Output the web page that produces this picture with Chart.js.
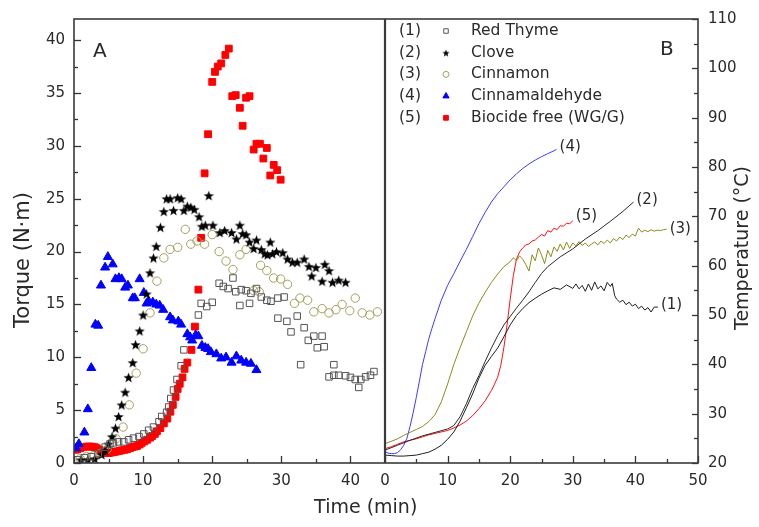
<!DOCTYPE html>
<html><head><meta charset="utf-8">
<script src="https://cdn.jsdelivr.net/npm/chart.js@4.4.1/dist/chart.umd.min.js"></script>
<style>html,body{margin:0;padding:0;background:#fff;}#wrap{position:relative;width:759px;height:527px;}</style>
</head><body><div id="wrap"><canvas id="c" width="759" height="527"></canvas></div>
<script>
// ---------- Panel A: torque (N·m) vs time (min) ----------
const seriesNames = ['Red Thyme', 'Clove', 'Cinnamon', 'Cinnamaldehyde', 'Biocide free (WG/G)'];
const seriesTags = ['(1)', '(2)', '(3)', '(4)', '(5)'];

const thymeTorqueT = [0.5,1.5,2.5,3.5,4.5,5.2,5.7,6.45,7.2,7.9,8.6,9.4,10.1,10.8,11.5,12.3,12.7,13.4,13.7,14.0,14.4,14.9,15.5,15.9,18.0,18.4,19.2,20.0,21.0,21.6,22.3,23.0,23.4,24.0,24.2,24.9,25.4,25.6,26.4,27.1,27.9,28.5,29.5,29.5,30.4,30.8,31.4,32.3,32.8,33.3,33.9,34.7,35.2,35.9,36.2,36.9,37.6,37.6,38.3,39.3,40.0,40.7,41.2,41.5,42.2,42.9,43.4];
const thymeTorque  = [0.3,0.5,0.6,0.9,1.5,1.8,1.9,2.0,2.0,2.2,2.35,2.5,2.75,3.1,3.4,3.9,4.4,4.8,5.3,6.1,6.9,7.9,9.2,10.7,14.0,15.1,14.8,15.2,17.0,16.7,16.5,17.5,16.2,14.9,16.4,16.3,15.1,16.05,16.5,15.7,15.4,15.3,15.6,13.7,15.7,13.4,12.4,13.9,9.3,12.8,11.6,12.0,10.9,12.0,11.0,8.15,9.3,8.3,8.3,8.25,8.1,7.9,7.15,7.9,8.15,8.3,8.65];

const cloveTorqueT = [1.0,2.0,3.0,4.0,4.5,5.0,5.5,6.0,6.45,6.9,7.4,7.9,8.5,8.9,9.5,10.0,10.5,11.0,11.5,11.9,12.5,13.0,13.4,13.9,14.4,15.0,15.5,15.9,16.4,16.9,17.4,18.1,18.5,19.0,19.5,20.1,21.1,21.8,22.8,23.5,24.0,24.4,24.9,25.4,26.0,26.4,27.1,27.6,28.0,28.4,28.7,29.3,30.2,30.9,31.6,32.3,33.3,34.0,34.4,35.0,35.9,36.3,36.9,37.4,38.3,39.3];
const cloveTorque  = [0.3,0.3,0.4,0.8,1.2,1.8,2.5,3.3,4.4,5.5,6.7,8.1,9.5,11.2,12.5,14.0,16.0,18.0,19.4,20.5,22.3,23.8,25.0,25.0,23.9,25.1,25.0,23.9,24.3,24.2,24.0,23.3,22.4,22.5,25.3,22.5,21.8,22.0,21.8,21.2,22.5,21.7,21.6,20.9,20.3,21.1,20.2,19.8,19.7,20.9,19.8,20.0,19.9,19.3,19.0,19.0,19.3,18.6,17.7,18.5,17.2,18.8,18.2,17.1,17.3,17.1];

const cinnTorqueT = [0.9,1.8,2.85,3.8,4.8,6.1,7.1,8.0,9.0,10.0,11.0,12.0,13.0,13.9,15.0,16.1,16.9,17.8,18.9,20.0,21.0,22.0,23.0,24.0,24.9,26.0,26.8,27.0,27.9,28.9,29.9,30.9,31.9,32.7,33.8,34.7,35.9,36.9,37.9,38.8,39.9,40.7,41.7,42.8,43.9];
const cinnTorque  = [0.4,0.6,0.7,0.9,1.3,2.3,3.4,5.5,8.5,10.8,14.2,17.2,19.4,20.2,20.4,22.1,20.7,21.0,20.7,21.6,20.0,19.1,18.3,19.7,20.2,16.3,16.2,18.7,18.2,17.5,17.4,16.9,15.1,15.6,15.4,14.3,14.6,14.2,14.5,15.0,14.4,15.6,14.2,14.0,14.3];

const aldTorqueT = [0.3,0.7,1.5,2.0,2.5,3.1,3.5,3.9,4.5,4.9,5.6,6.0,6.5,6.9,7.4,7.8,8.5,8.8,9.5,10.1,10.5,10.8,11.4,11.9,12.4,12.9,13.9,14.3,15.1,15.5,16.4,16.8,17.1,17.6,18.0,18.5,19.0,19.4,19.8,20.6,21.3,22.0,22.8,23.5,24.2,24.9,25.6,26.4];
const aldTorque  = [1.4,1.8,2.9,5.1,9.0,13.1,13.0,16.8,18.5,19.5,18.8,17.4,17.5,17.4,16.6,16.8,15.6,15.6,17.4,16.1,15.1,15.3,15.2,15.0,14.9,14.5,13.8,13.5,13.4,13.1,12.2,11.9,11.6,12.1,12.0,11.1,10.9,10.8,10.5,10.3,9.9,10.0,9.5,10.1,9.7,9.5,9.4,8.8];

const freeTorqueT = [0.2,0.5,0.9,1.3,1.85,2.2,2.6,3.0,3.3,3.7,4.0,4.4,4.75,5.1,5.5,5.9,6.2,6.6,6.9,7.3,7.7,8.1,8.4,8.8,9.1,9.5,9.8,10.2,10.6,11.0,11.3,11.7,12.0,12.5,13.0,13.5,13.95,14.3,14.7,15.0,15.3,15.7,16.0,16.4,17.0,17.5,18.0,18.4,18.9,19.4,20.0,20.4,20.8,21.3,21.9,22.4,22.9,23.4,24.0,24.4,24.9,25.4,26.0,26.4,26.9,27.4,27.9,28.4,28.9,29.4,29.9];
const freeTorque  = [1.25,1.3,1.4,1.5,1.55,1.55,1.55,1.5,1.4,1.25,1.1,1.0,0.95,0.95,1.0,1.05,1.1,1.15,1.2,1.25,1.3,1.4,1.5,1.55,1.6,1.75,1.9,2.05,2.2,2.4,2.55,2.75,3.0,3.3,3.75,4.2,4.85,5.5,6.25,7.0,7.5,8.1,8.9,9.5,10.7,12.9,16.4,21.3,27.4,31.1,36.05,37.0,37.5,37.8,38.6,39.2,34.7,34.8,33.6,31.9,34.55,34.7,29.65,30.2,30.2,28.8,29.8,27.2,28.2,27.7,26.8];

// ---------- Panel B: temperature (°C) vs time (min) ----------
const thymeTempT = [0,1,2,3,4,5,6,7,8,9,10,11,12,13,14,15,16,17,18,19,20,21,22,23,24,25,26,27,28,29,30,30.5,31,31.5,32,32.5,33,33.5,34,34.5,35,35.5,36,36.3,36.7,37,37.5,38,38.5,39,39.5,40,40.5,41,41.5,42,42.5,43,43.6];
const thymeTemp  = [21.6,21.5,21.4,21.4,21.5,21.6,21.9,22.2,22.8,23.6,24.8,26.3,28.5,31.2,34.0,37.2,39.8,41.6,43.3,45.6,48.0,49.9,51.3,52.5,53.4,54.2,54.9,55.5,55.2,56.1,55.4,56.3,55.3,56.0,54.8,56.3,55.0,56.7,55.3,55.9,54.9,56.6,55.8,56.4,53.9,53.2,52.6,53.0,52.1,52.6,51.8,52.2,51.3,51.8,51.0,51.5,50.6,51.6,51.6];

const cloveTempT = [0,2,4,6,8,10,11,12,13,14,15,16,17,18,19,20,21,22,23,24,25,26,28,30,32,34,36,38,39.7];
const cloveTemp  = [22.6,23.6,24.6,25.5,26.2,26.9,27.6,29.4,32.0,35.1,37.7,40.6,43.3,45.8,48.0,49.7,51.4,53.0,54.7,56.6,58.4,59.8,61.8,63.4,65.4,67.1,69.0,71.0,72.9];

const cinnTempT = [0,1,2,3,4,5,6,7,8,9,10,11,12,13,14,15,16,17,18,19,20,20.5,21,21.5,22,22.5,23,23.5,24,24.5,25,25.5,26,26.5,27,27.5,28,28.5,29,29.5,30,30.5,31,31.5,32,32.5,33,33.5,34,34.5,35,35.5,36,36.5,37,37.5,38,38.5,39,39.5,40,40.5,41,41.5,42,42.5,43,43.5,44,44.5,45];
const cinnTemp  = [23.9,24.4,24.9,25.6,26.2,26.8,27.4,28.4,29.8,32.4,36.0,40.0,43.4,46.6,49.8,52.4,54.6,56.6,58.3,59.8,60.8,61.6,61.0,62.0,61.3,60.2,58.9,62.2,61.0,63.6,62.2,60.4,63.1,61.8,63.8,62.9,64.4,63.2,64.8,63.5,64.6,64.0,64.9,64.1,64.6,63.9,64.4,64.8,64.2,65.0,64.5,65.2,64.6,65.5,65.0,65.8,65.3,66.2,65.7,66.4,66.0,67.6,66.8,67.2,66.9,67.3,67.0,67.2,67.1,67.3,67.4];

const aldTempT = [0,0.5,1,1.5,2,2.5,3,3.5,4,4.5,5,5.5,6,6.5,7,7.5,8,9,10,11,12,13,14,15,16,17,18,19,20,21,22,23,24,25,26,27,27.4];
const aldTemp  = [22.3,22.0,21.9,21.9,22.1,22.7,23.6,25.0,27.4,30.2,33.3,36.6,40.0,42.6,45.2,47.3,49.3,53.0,56.0,58.4,60.9,63.3,65.9,68.5,70.8,72.9,74.6,76.0,77.4,78.6,79.7,80.6,81.4,82.1,82.7,83.3,83.6];

const freeTempT = [0,1,2,3,4,5,6,7,8,9,10,11,12,13,14,15,16,17,17.5,18,18.5,19,19.5,20,20.5,21,21.5,22,22.5,23,23.5,24,24.5,25,25.5,26,26.5,27,27.5,28,28.5,29,29.5,30];
const freeTemp  = [22.9,23.3,23.8,24.3,24.6,24.9,25.3,25.7,26.0,26.3,26.6,27.1,27.7,28.5,29.6,31.0,32.6,34.7,36.0,37.4,39.8,43.5,48.0,53.2,58.0,61.3,62.8,63.6,64.2,64.4,65.0,65.2,65.8,66.3,66.0,67.1,66.8,67.6,67.3,68.1,68.0,68.6,68.5,69.1];

// ---------- tick labels ----------
const torqueTicks = [0,5,10,15,20,25,30,35,40];
const timeTicksA = [0,10,20,30,40];
const timeTicksB = [0,10,20,30,40,50];
const tempTicks = [20,30,40,50,60,70,80,90,100,110];

const FONT = "'DejaVu Sans', 'Liberation Sans', sans-serif";
const INK = '#2a2a2a';

function zip(xs, ys) { const n = Math.min(xs.length, ys.length); const o = []; for (let i = 0; i < n; i++) o.push({x: xs[i], y: ys[i]}); return o; }

function makeStar(R) {
  const s = Math.ceil(R * 2 + 2), c = document.createElement('canvas');
  c.width = s; c.height = s;
  const g = c.getContext('2d');
  g.fillStyle = '#000'; g.beginPath();
  for (let i = 0; i < 10; i++) {
    const a = -Math.PI / 2 + i * Math.PI / 5, rr = i % 2 ? R * 0.42 : R;
    g.lineTo(s / 2 + rr * Math.cos(a), s / 2 + 0.6 + rr * Math.sin(a));
  }
  g.closePath(); g.fill();
  return c;
}
const starBig = makeStar(5.4);
const starSmall = makeStar(3.8);

const markerStyles = [
  {style: 'rect', r: 4.6, fill: 'rgba(255,255,255,0)', stroke: '#555555', small: 3.2},
  {style: 'star', img: starBig, smallImg: starSmall},
  {style: 'circle', r: 4.2, fill: 'rgba(255,255,255,0)', stroke: '#a59e5c', small: 3.0},
  {style: 'triangle', r: 5.2, fill: '#0000ff', stroke: '#0000ff', small: 3.6},
  {style: 'rect', r: 4.8, fill: '#ff0000', stroke: '#ff0000', small: 3.4}
];
const lineColors = ['#1e1e1e', '#2a2a2a', '#8c8a1c', '#3a3aff', '#ff1010'];
const endLabelLift = [2, 2, 0, 2, 5];

const torqueSets = [[thymeTorqueT, thymeTorque], [cloveTorqueT, cloveTorque], [cinnTorqueT, cinnTorque], [aldTorqueT, aldTorque], [freeTorqueT, freeTorque]];
const tempSets = [[thymeTempT, thymeTemp], [cloveTempT, cloveTemp], [cinnTempT, cinnTemp], [aldTempT, aldTemp], [freeTempT, freeTemp]];

const datasets = [];
tempSets.forEach((s, i) => {
  datasets.push({
    type: 'line', label: seriesNames[i] + ' temperature', data: zip(s[0], s[1]),
    xAxisID: 'xB', yAxisID: 'yB', borderColor: lineColors[i], borderWidth: 1,
    pointRadius: 0, tension: 0, fill: false, order: 2
  });
});
torqueSets.forEach((s, i) => {
  const m = markerStyles[i];
  const ds = {
    type: 'scatter', label: seriesNames[i] + ' torque', data: zip(s[0], s[1]),
    xAxisID: 'xA', yAxisID: 'yA', showLine: false, order: 1
  };
  if (m.style === 'star') { ds.pointStyle = m.img; ds.pointRadius = 5; }
  else { ds.pointStyle = m.style; ds.pointRadius = m.r; ds.backgroundColor = m.fill; ds.borderColor = m.stroke; ds.borderWidth = 1; }
  datasets.push(ds);
});

function fixedTicks(arr) { return (scale) => { scale.ticks = arr.map(v => ({value: v})); }; }
function mids(arr) { return arr.slice(1).map((v, i) => (v + arr[i]) / 2); }

const tickFont = {family: FONT, size: 15};

const decorPlugin = {
  id: 'decor',
  afterDatasetsDraw(chart) {
    const {ctx, chartArea: a, scales: s} = chart;
    ctx.save();
    // inward ticks
    ctx.strokeStyle = '#333'; ctx.lineWidth = 1.3;
    const vt = (sc, vals, len) => vals.forEach(v => { const x = Math.round(sc.getPixelForValue(v)) + 0.5; ctx.beginPath(); ctx.moveTo(x, a.bottom); ctx.lineTo(x, a.bottom - len); ctx.stroke(); });
    const ht = (sc, vals, len, right) => vals.forEach(v => { const y = Math.round(sc.getPixelForValue(v)) + 0.5; const x0 = right ? a.right : a.left; ctx.beginPath(); ctx.moveTo(x0, y); ctx.lineTo(right ? x0 - len : x0 + len, y); ctx.stroke(); });
    vt(s.xA, timeTicksA, 7); vt(s.xA, mids(timeTicksA), 4);
    vt(s.xB, timeTicksB, 7); vt(s.xB, mids(timeTicksB), 4);
    ht(s.yA, torqueTicks, 7, false); ht(s.yA, mids(torqueTicks), 4, false);
    ht(s.yB, tempTicks, 6, true); ht(s.yB, mids(tempTicks), 4, true);
    // frame
    ctx.lineWidth = 1.6; ctx.strokeStyle = '#3a3a3a';
    ctx.strokeRect(a.left, a.top, a.right - a.left, a.bottom - a.top);
    ctx.lineWidth = 2.2;
    ctx.beginPath(); ctx.moveTo(s.xB.left, a.top); ctx.lineTo(s.xB.left, a.bottom); ctx.stroke();

    ctx.fillStyle = INK;
    // panel letters
    ctx.font = '20px ' + FONT; ctx.textBaseline = 'middle'; ctx.textAlign = 'left';
    ctx.fillText('A', a.left + 19, a.top + 33);
    ctx.fillText('B', s.xB.right - 38, a.top + 31);

    // curve end labels
    ctx.font = '15px ' + FONT;
    tempSets.forEach((ts, i) => {
      const n = Math.min(ts[0].length, ts[1].length) - 1;
      const x = s.xB.getPixelForValue(ts[0][n]), y = s.yB.getPixelForValue(ts[1][n]);
      ctx.fillText(seriesTags[i], x + 3, y - endLabelLift[i]);
    });

    // legend
    const lx = s.xB.left;
    ctx.font = '15.5px ' + FONT;
    seriesNames.forEach((name, i) => {
      const y = a.top + 12 + i * 21.7;
      ctx.fillStyle = INK;
      ctx.fillText(seriesTags[i], lx + 14, y);
      ctx.fillText(name, lx + 86, y);
      const m = markerStyles[i], mx = lx + 61;
      if (m.style === 'star') { ctx.drawImage(m.smallImg, mx - m.smallImg.width / 2, y - m.smallImg.height / 2); }
      else {
        ctx.fillStyle = m.fill; ctx.strokeStyle = m.stroke; ctx.lineWidth = 1;
        Chart.helpers.drawPoint(ctx, {pointStyle: m.style, radius: m.small, borderWidth: 1}, mx, y);
      }
    });

    // axis titles
    ctx.fillStyle = INK;
    ctx.textAlign = 'center'; ctx.textBaseline = 'middle';
    ctx.font = '19px ' + FONT;
    ctx.fillText('Time (min)', s.xA.left + (s.xB.right - s.xA.left) * 0.4675, a.bottom + 45);
    const midY = (a.top + a.bottom) / 2;
    ctx.save();
    ctx.font = '21px ' + FONT;
    ctx.translate(a.left - 50, midY + 19);
    ctx.rotate(-Math.PI / 2);
    ctx.fillText('Torque (N·m)', 0, 0);
    ctx.restore();
    ctx.font = '19px ' + FONT;
    ctx.translate(a.right + 45, midY + 7);
    ctx.rotate(-Math.PI / 2);
    ctx.fillText('Temperature (°C)', 0, 0);
    ctx.restore();
  }
};

Chart.defaults.font.family = FONT;
Chart.defaults.color = INK;

new Chart(document.getElementById('c'), {
  type: 'scatter',
  data: {datasets},
  options: {
    responsive: false, animation: false, devicePixelRatio: 1,
    layout: {padding: {top: 15, left: 0, right: 0, bottom: 0}},
    plugins: {legend: {display: false}, tooltip: {enabled: false}, title: {display: false}},
    scales: {
      xA: {type: 'linear', position: 'bottom', stack: 'time', stackWeight: 311, min: 0, max: 45,
        grid: {display: false, drawTicks: false}, border: {display: false},
        ticks: {font: tickFont, color: INK, padding: 9, maxRotation: 0, autoSkip: false, includeBounds: false},
        afterBuildTicks: fixedTicks(timeTicksA), afterFit: (sc) => { sc.height = 64; }},
      xB: {type: 'linear', position: 'bottom', stack: 'time', stackWeight: 313, min: 0, max: 50,
        grid: {display: false, drawTicks: false}, border: {display: false},
        ticks: {font: tickFont, color: INK, padding: 9, maxRotation: 0, autoSkip: false, includeBounds: false},
        afterBuildTicks: fixedTicks(timeTicksB), afterFit: (sc) => { sc.height = 64; }},
      yA: {type: 'linear', position: 'left', min: 0, max: 42,
        grid: {display: false, drawTicks: false}, border: {display: false},
        ticks: {font: tickFont, color: INK, padding: 9, autoSkip: false, includeBounds: false},
        afterBuildTicks: fixedTicks(torqueTicks), afterFit: (sc) => { sc.width = 74; }},
      yB: {type: 'linear', position: 'right', min: 20, max: 110,
        grid: {display: false, drawTicks: false}, border: {display: false},
        ticks: {font: tickFont, color: INK, padding: 10, autoSkip: false, includeBounds: false},
        afterBuildTicks: fixedTicks(tempTicks), afterFit: (sc) => { sc.width = 61; }}
    }
  },
  plugins: [decorPlugin]
});
</script></body></html>
